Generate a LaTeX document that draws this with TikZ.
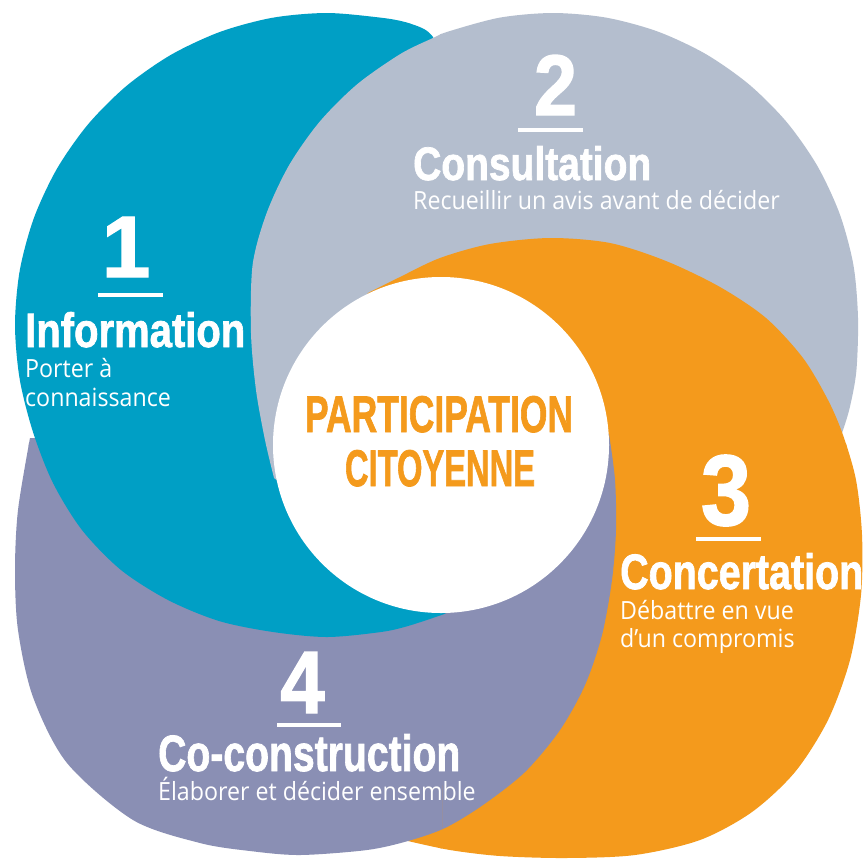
\documentclass[tikz,border=0pt]{standalone}
\usepackage{fontspec}
\usepackage{graphicx}
\setmainfont{Open Sans}
\newfontfamily\headfont{Liberation Sans}[BoldFeatures={FakeBold=1.6}]
\definecolor{cteal}{RGB}{0,159,197}
\definecolor{cgrey}{RGB}{180,190,206}
\definecolor{corange}{RGB}{244,154,28}
\definecolor{cslate}{RGB}{138,143,180}
\newcommand\hdbox[3]{\resizebox{#1pt}{#2pt}{\headfont\bfseries #3}}
\newcommand\digbox[3]{\resizebox{!}{#1pt}{\scalebox{#2}[1]{\headfont\bfseries #3}}}
\newcommand\bodytxt[1]{\scalebox{1}[1.08]{#1}}
\begin{document}
\begin{tikzpicture}[x=1pt,y=-1pt,
  tealpath/.style={insert path={plot[smooth,tension=0.5] coordinates {(436,47) (433,37) (424,29) (405,22) (381,17.7) (327,13) (272.8,17.7) (220.3,31.8) (171,54.8) (126.4,86) (88,124.4) (56.8,169) (33.8,218.3) (19.7,270.8) (15,325) (19.7,379.2) (33,432) (53,483) (82,530) (121,570) (168,600) (219,621) (273,632) (327,637) (381,632) (408,626) (443,614.5)} -- (490,592) -- (500,300) -- (470,120) -- cycle}},
  greypath/.style={insert path={plot[smooth,tension=0.5] coordinates {(274,478) (265,440) (256,390) (251,333) (252.6,265) (266.4,213.7) (288.9,165.5) (319.4,122) (357,84.4) (400.5,53.9) (433,38) (448.7,31.4) (500,17.6) (553,13) (606,17.6) (657.3,31.4) (705.5,53.9) (749,84.4) (786.6,122) (817.1,165.5) (839.6,213.7) (853.4,265) (858,318) (856.3,371.5) (849.5,408.6) (842,433)} -- (800,442) -- (600,442) -- (330,520) -- cycle}},
  orangepath/.style={insert path={plot[smooth,tension=0.5] coordinates {(368,293) (400,277) (440,258) (490,244) (550,238) (610,243) (666,261) (720,287) (766,318) (803,358) (828,400) (843,435) (856,480) (862,535) (861,595) (850,660) (828,720) (795,772) (752,812) (700,840) (635,855) (565,858) (500,856) (450,850) (408,841)} -- (440,790) -- (525,610) -- (480,400) -- (350,322) -- cycle}},
  slatepath/.style={insert path={plot[smooth,tension=0.5] coordinates {(609,434) (615,480) (616,530) (612,580) (602,635) (585,685) (560,730) (525,772) (483,805) (445,828) (408,841) (367,850) (300,855) (250,851) (200,843) (133,820) (67,763) (33,697) (18,630) (15,570) (18,510) (30,438)} -- (80,440) -- (250,490) -- (440,470) -- (590,440) -- cycle}},
  head/.style={inner sep=0pt, anchor=base west, text=white},
  body/.style={inner sep=0pt, anchor=base west, text=white, font=\fontsize{23.2}{27}\selectfont},
  digit/.style={inner sep=0pt, anchor=base, text=white},
  centre/.style={inner sep=0pt, anchor=base, text=corange}
]
\useasboundingbox (0,0) rectangle (866,860);
\fill[white] (0,0) rectangle (866,860);
% upper left
\begin{scope}
  \clip (-5,-5) rectangle (442,445);
  \fill[cslate, slatepath];
  \fill[cteal, tealpath];
  \fill[cgrey, greypath];
  \fill[corange, orangepath];
\end{scope}
% upper right
\begin{scope}
  \clip (440,-5) rectangle (871,445);
  \fill[cteal, tealpath];
  \fill[cgrey, greypath];
  \fill[corange, orangepath];
  \fill[cslate, slatepath];
\end{scope}
% lower right
\begin{scope}
  \clip (440,443) rectangle (871,865);
  \fill[cgrey, greypath];
  \fill[corange, orangepath];
  \fill[cslate, slatepath];
  \fill[cteal, tealpath];
\end{scope}
% lower left
\begin{scope}
  \clip (-5,443) rectangle (442,865);
  \fill[corange, orangepath];
  \fill[cslate, slatepath];
  \fill[cteal, tealpath];
  \fill[cgrey, greypath];
\end{scope}
\fill[white] (441,445) circle[radius=168pt];

% centre
\node[centre] (p1) at (439,432) {\hdbox{268}{36}{PARTICIPATION}};
\node[centre] (p2) at (440,486) {\hdbox{190}{36}{CITOYENNE}};

% 1
\node[digit] (d1) at (126,277) {\digbox{60}{1}{1}};
\fill[white] (98,293.2) rectangle (163,296.8);
\node[head] (h1) at (25,347) {\hdbox{220}{35}{Information}};
\node[body] (t1a) at (25,377) {\bodytxt{Porter à}};
\node[body] (t1b) at (25,406) {\bodytxt{connaissance}};

% 2
\node[digit] (d2) at (555.5,115) {\digbox{60}{0.9}{2}};
\fill[white] (518,128.2) rectangle (583,131.8);
\node[head] (h2) at (413,180) {\hdbox{238}{34}{Consultation}};
\node[body] (t2) at (413,209) {\bodytxt{Recueillir un avis avant de décider}};

% 3
\node[digit] (d3) at (726,525) {\digbox{70}{0.9}{3}};
\fill[white] (696,537.2) rectangle (761,540.8);
\node[head] (h3) at (620,589) {\hdbox{243}{36}{Concertation}};
\node[body] (t3a) at (620,619) {\bodytxt{Débattre en vue}};
\node[body] (t3b) at (620,647) {\bodytxt{d’un compromis}};

% 4
\node[digit] (d4) at (302.5,713) {\digbox{61}{0.9}{4}};
\fill[white] (277,723.2) rectangle (341,726.8);
\node[head] (h4) at (158,771) {\hdbox{302}{37}{Co-construction}};
\node[body] (t4) at (158,800) {\bodytxt{Élaborer et décider ensemble}};
\end{tikzpicture}
\end{document}
